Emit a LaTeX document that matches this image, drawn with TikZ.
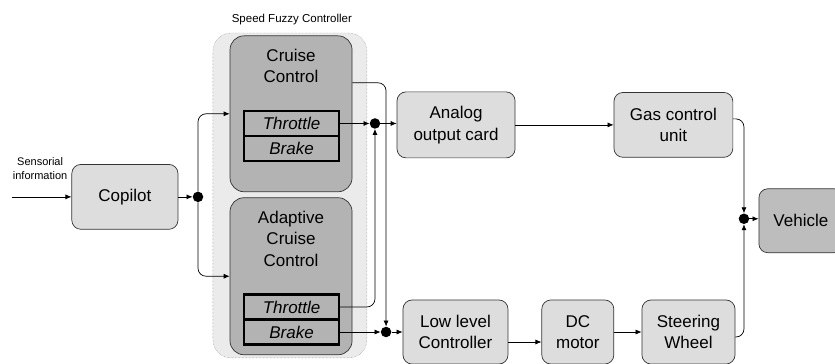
\documentclass[tikz,border=0pt]{standalone}
\usepackage{fontspec}
\setmainfont{Liberation Sans}
\usetikzlibrary{positioning,arrows.meta,calc}
\definecolor{boxlight}{HTML}{DDDDDD}
\definecolor{boxdark}{HTML}{B3B3B3}
\definecolor{boxouter}{HTML}{EBEBEB}
\definecolor{boxveh}{HTML}{BDBDBD}
\definecolor{edge}{HTML}{333333}
\begin{document}
\begin{tikzpicture}[
      >={Latex[length=6pt,width=5pt]},
      box/.style={draw=edge,line width=0.7pt,rounded corners=9pt,fill=boxlight,align=center,
        font=\fontsize{17}{21.5}\selectfont},
      ctrl/.style={draw=edge,line width=0.7pt,rounded corners=14pt,fill=boxdark,minimum width=4.29cm},
      cell/.style={draw=black,line width=2.2pt,fill=boxdark,minimum width=3.34cm,minimum height=0.88cm,
        inner sep=0pt,font=\fontsize{17}{21.5}\selectfont\itshape},
      dot/.style={circle,fill=black,inner sep=0pt,minimum size=10.5pt},
      txt/.style={align=center,font=\fontsize{17}{21.5}\selectfont},
      wire/.style={->,line width=0.7pt,rounded corners=8pt}]
    \useasboundingbox (0,0) rectangle (29.35,12.79);
    % speed fuzzy controller
    \node[draw=gray,densely dotted,fill=boxouter,rounded corners=18pt,minimum width=5.41cm,minimum height=11.42cm] (sfc) at (10.19,5.92) {};
    \node[font=\fontsize{11.5}{13}\selectfont] (sfclbl) at (10.26,12.10) {Speed Fuzzy Controller};
    \node[ctrl,minimum height=5.48cm] (cruise) at (10.23,8.79) {};
    \node[txt,below=0.34cm of cruise.north] (cruisetxt) {Cruise\\Control};
    \node[cell] (cthr) at (10.25,8.45) {Throttle};
    \node[cell] (cbrk) at (10.25,7.57) {Brake};
    \node[ctrl,minimum height=5.52cm] (acc) at (10.23,3.08) {};
    \node[txt,below=0.36cm of acc.north] (acctxt) {Adaptive\\Cruise\\Control};
    \node[cell] (athr) at (10.25,2.00) {Throttle};
    \node[cell] (abrk) at (10.25,1.12) {Brake};
    % other blocks
    \node[box,minimum width=3.73cm,minimum height=2.28cm] (copilot) at (4.39,5.87) {Copilot};
    \node[align=center,font=\fontsize{11}{14}\selectfont] (senstxt) at (1.41,6.85) {Sensorial\\information};
    \coordinate (sens) at (0.42,5.87);
    \node[box,minimum width=4.15cm,minimum height=2.32cm] (analog) at (16.03,8.40) {Analog\\output card};
    \node[box,minimum width=4.18cm,minimum height=2.28cm] (gas) at (23.67,8.40) {Gas control\\unit};
    \node[box,minimum width=3.69cm,minimum height=2.25cm] (low) at (16.01,1.12) {Low level\\Controller};
    \node[box,minimum width=2.53cm,minimum height=2.25cm] (dc) at (20.31,1.12) {DC\\motor};
    \node[box,minimum width=3.27cm,minimum height=2.25cm] (steer) at (24.20,1.12) {Steering\\Wheel};
    \node[box,fill=boxveh,minimum width=2.95cm,minimum height=2.25cm] (veh) at (28.15,5.03) {Vehicle};
    % junctions
    \node[dot] (j0) at (6.96,5.87) {};
    \node[dot] (j1) at (13.18,8.45) {};
    \node[dot] (j2) at (13.57,1.12) {};
    \node[dot] (j3) at (26.15,5.10) {};
    % connections
    \draw[wire] (sens) -- (copilot);
    \draw[wire] (copilot) -- (j0);
    \draw[wire] (j0) |- (cruise.west);
    \draw[wire] (j0) |- (acc.west);
    \draw[wire] (cthr) -- (j1);
    \draw[wire] (athr.east) -| (j1);
    \draw[wire] ([yshift=31pt]cruise.east) -| (j2);
    \draw[wire] (abrk) -- (j2);
    \draw[wire] (j1) -- (j1 -| analog.west);
    \draw[wire] (j2) -- (low);
    \draw[wire] (analog) -- (gas);
    \draw[wire] ([yshift=-10pt]low.east) -- ([yshift=-10pt]dc.west);
    \draw[wire] (dc) -- (steer);
    \draw[wire] ([yshift=6pt]gas.east) -| (j3);
    \draw[wire] ([yshift=-5pt]steer.east) -| (j3);
    \draw[wire] (j3) -- (j3 -| veh.west);
  \end{tikzpicture}
\end{document}
